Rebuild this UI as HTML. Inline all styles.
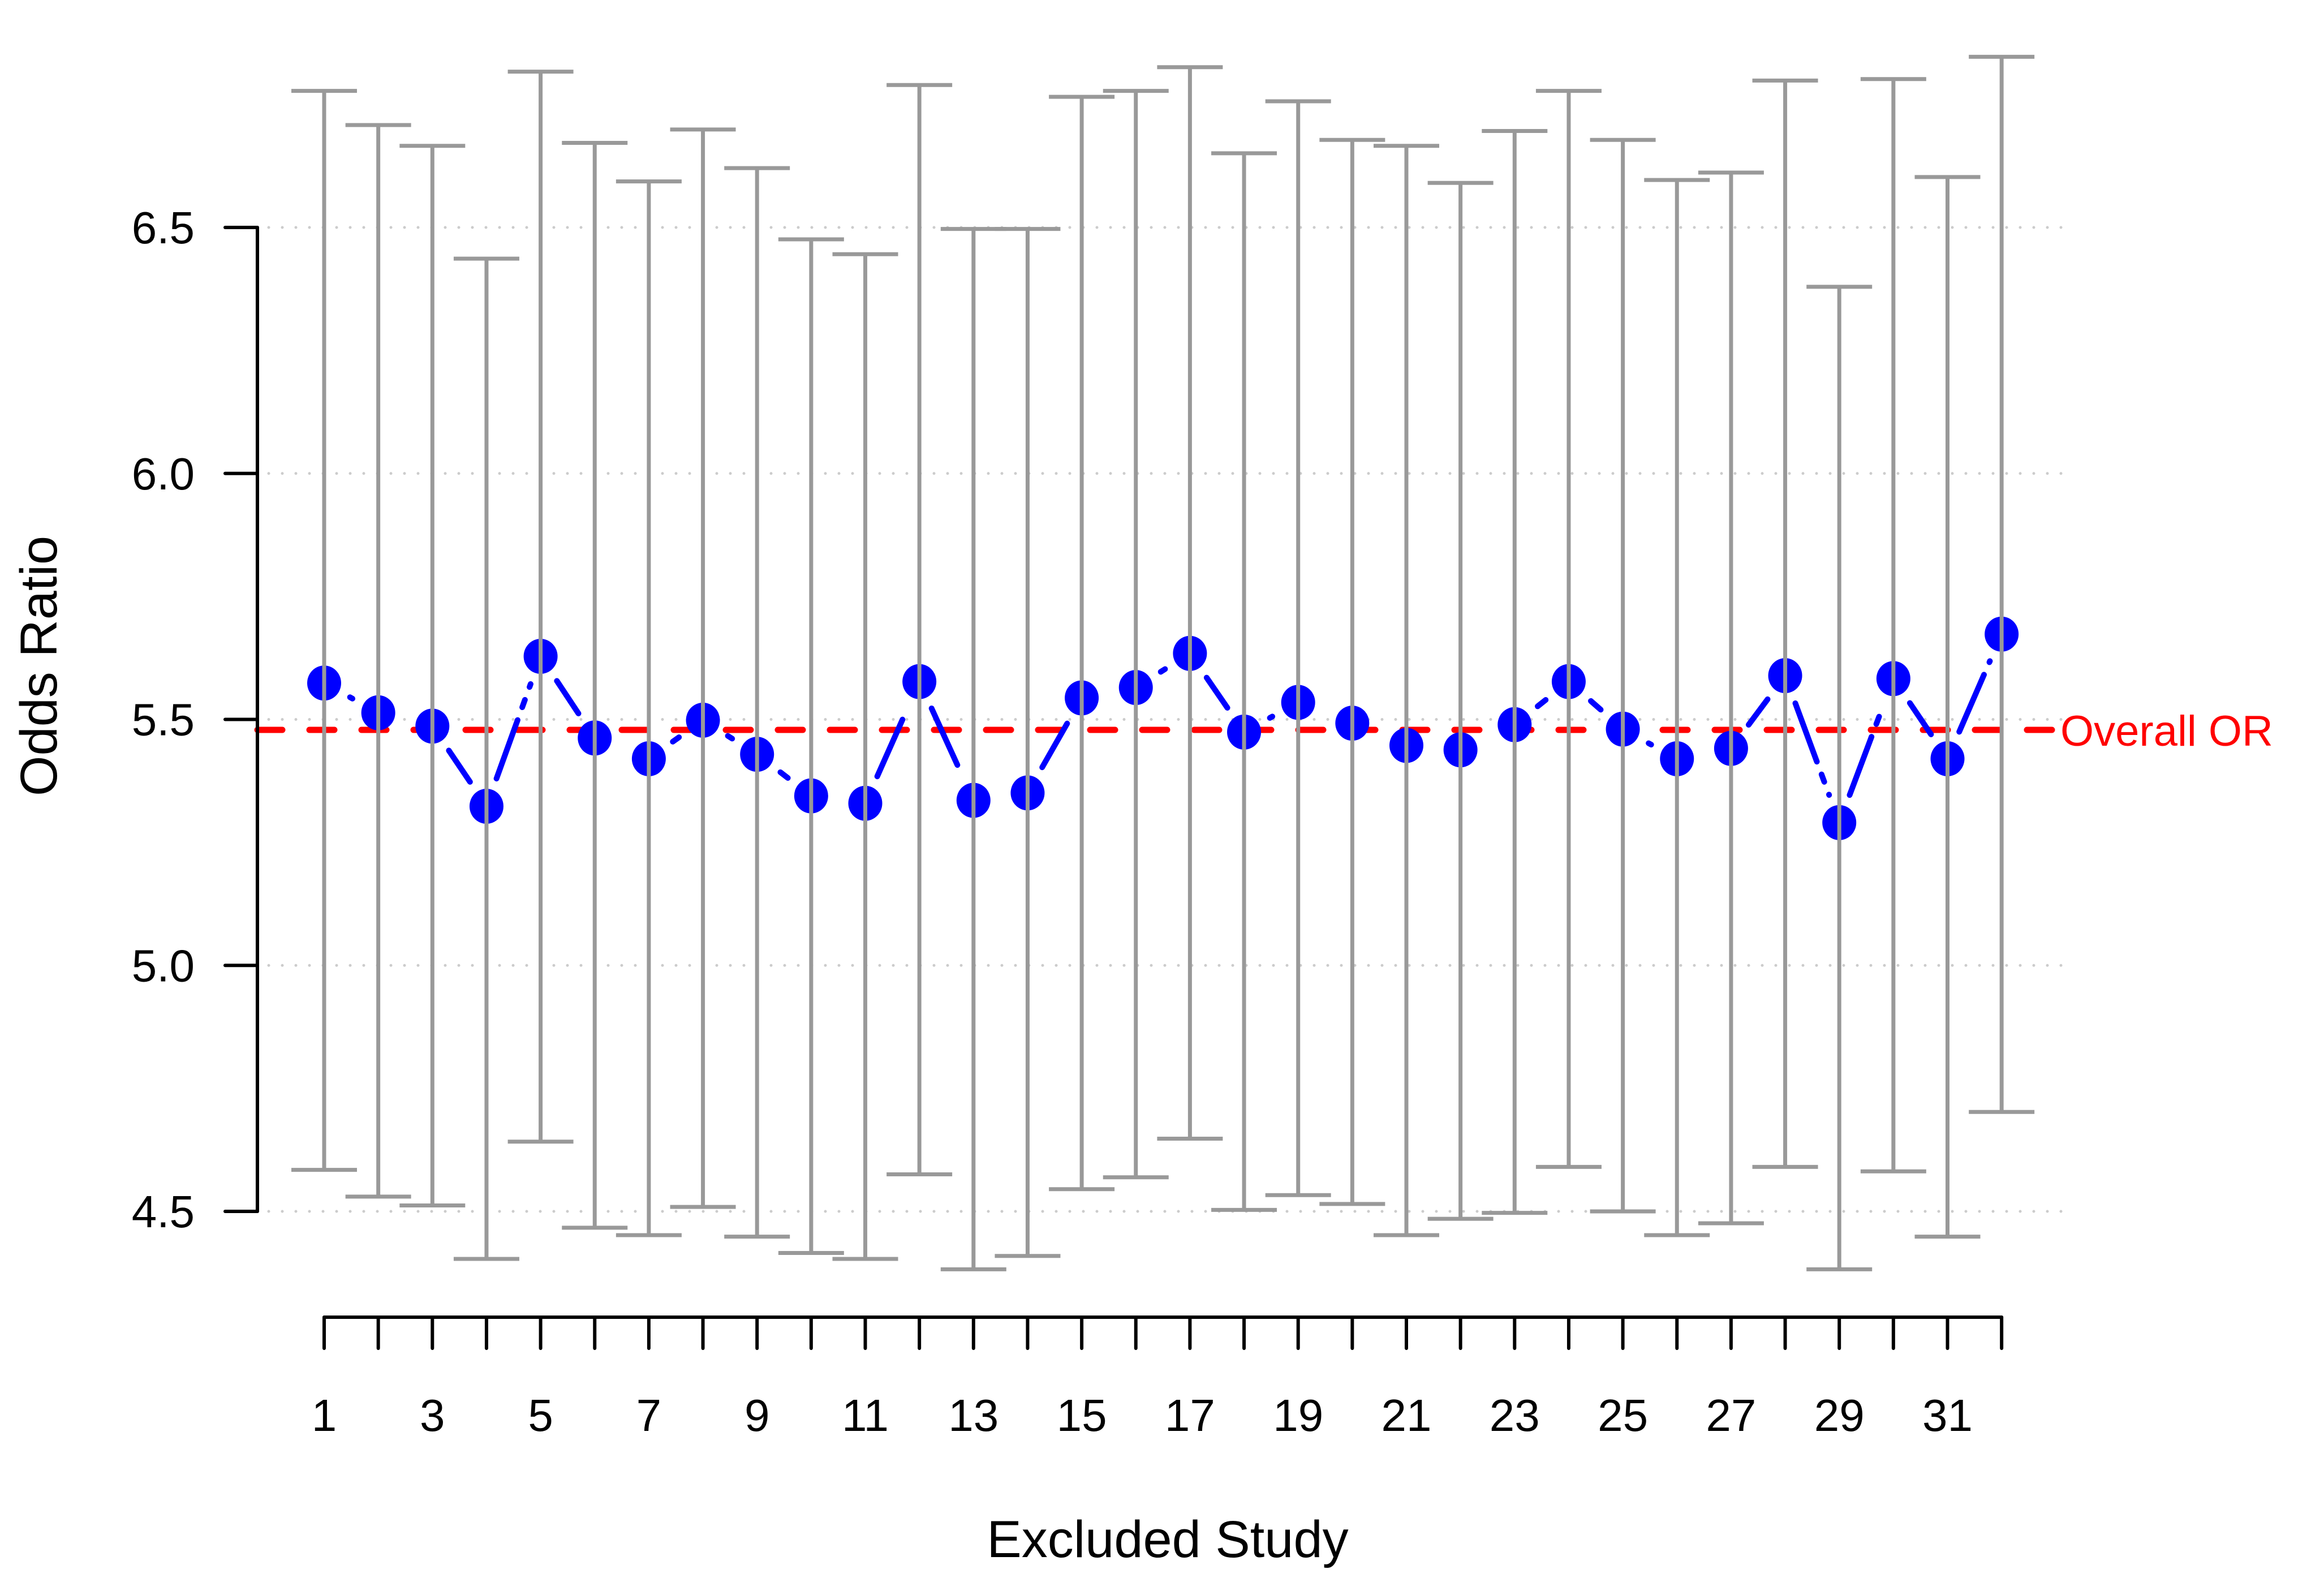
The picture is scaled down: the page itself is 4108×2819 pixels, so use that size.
<!DOCTYPE html>
<html><head><meta charset="utf-8"><style>html,body{margin:0;padding:0;background:#fff}svg{display:block}</style></head>
<body>
<svg id="s" width="4108" height="2819" viewBox="0 0 4108 2819" xmlns="http://www.w3.org/2000/svg" font-family="Liberation Sans, Arial, sans-serif">
<rect width="4108" height="2819" fill="#fff"/>
<g id="grid"></g>
<g id="bars"></g>
<line x1="455" y1="1290" x2="3640" y2="1290" stroke="#ff0000" stroke-width="11" stroke-dasharray="44 48" stroke-linecap="round"/>
<g id="lines"></g>
<g id="pts"></g>
<g id="bars2"></g>
<g id="axes" stroke="#000" stroke-width="6" fill="none" stroke-linecap="round" stroke-linejoin="round"></g>
<g id="labels" font-size="80" fill="#000"></g>
<text x="3642" y="1318" font-size="76" fill="#ff0000">Overall OR</text>
<text transform="translate(100,1177) rotate(-90)" text-anchor="middle" font-size="92" fill="#000">Odds Ratio</text>
<text x="2064" y="2752" text-anchor="middle" font-size="92" fill="#000">Excluded Study</text>
</svg>
<script>
var NS="http://www.w3.org/2000/svg";
function el(p,t,a,txt){var e=document.createElementNS(NS,t);for(var k in a)e.setAttribute(k,a[k]);if(txt!==undefined)e.textContent=txt;document.getElementById(p).appendChild(e);return e;}
function Y(v){return 402+(6.5-v)*869.5;}
function D(d){return 402+(d-154)*2.623;}
function X(i){return 573+(i-1)*95.65;}
var pts=[461,481,490,544,443,498,512,486,509,537,542,460,540,535,471,464,441,494,474,488,503,506,489,460,492,512,505,456,555,458,512,428];
var up=[62,85,99,175,49,97,123,88,114,162,172,58,155,155,66,62,46,104,69,95,99,124,89,62,95,122,117,55,194,54,120,39];
var lo=[789,807,813,849,770,828,833,814,834,845,849,792,856,847,802,794,768,816,806,812,833,822,818,787,817,833,825,787,856,790,834,750];
[4.5,5,5.5,6,6.5].forEach(function(v){
 el("grid","line",{x1:475,x2:3660,y1:Y(v),y2:Y(v),stroke:"#cccccc","stroke-width":5,"stroke-dasharray":"0 24","stroke-linecap":"round"});
 el("axes","line",{x1:398,x2:455,y1:Y(v),y2:Y(v)});
 el("labels","text",{x:344,y:Y(v)+28,"text-anchor":"end"},v.toFixed(1));
});
el("axes","line",{x1:455,x2:455,y1:Y(6.5),y2:Y(4.5)});
el("axes","line",{x1:X(1),x2:X(32),y1:2328,y2:2328});
for(var i=1;i<=32;i++){
 el("axes","line",{x1:X(i),x2:X(i),y1:2328,y2:2383});
 if(i%2==1)el("labels","text",{x:X(i),y:2529,"text-anchor":"middle"},String(i));
}
for(var i=0;i<32;i++){
 var x=X(i+1),yu=D(up[i]),yl=D(lo[i]);
 el("bars2","line",{x1:x,x2:x,y1:yu,y2:yl,stroke:"#999","stroke-width":7});
 el("bars2","line",{x1:x-58,x2:x+58,y1:yu,y2:yu,stroke:"#999","stroke-width":7});
 el("bars2","line",{x1:x-58,x2:x+58,y1:yl,y2:yl,stroke:"#999","stroke-width":7});
 el("pts","ellipse",{cx:x,cy:D(pts[i]),rx:30,ry:31,fill:"#0000ff"});
}
for(var i=0;i<31;i++){
 var x1=X(i+1),y1=D(pts[i]),x2=X(i+2),y2=D(pts[i+1]);
 var dx=x2-x1,dy=y2-y1,L=Math.sqrt(dx*dx+dy*dy),g=52;
 if(L<=2*g+4)continue;
 el("lines","line",{x1:x1+dx*g/L,y1:y1+dy*g/L,x2:x2-dx*g/L,y2:y2-dy*g/L,stroke:"#0000ff","stroke-width":10,"stroke-linecap":"round","stroke-dasharray":"110 24 14 24"});
}
</script>
</body></html>
